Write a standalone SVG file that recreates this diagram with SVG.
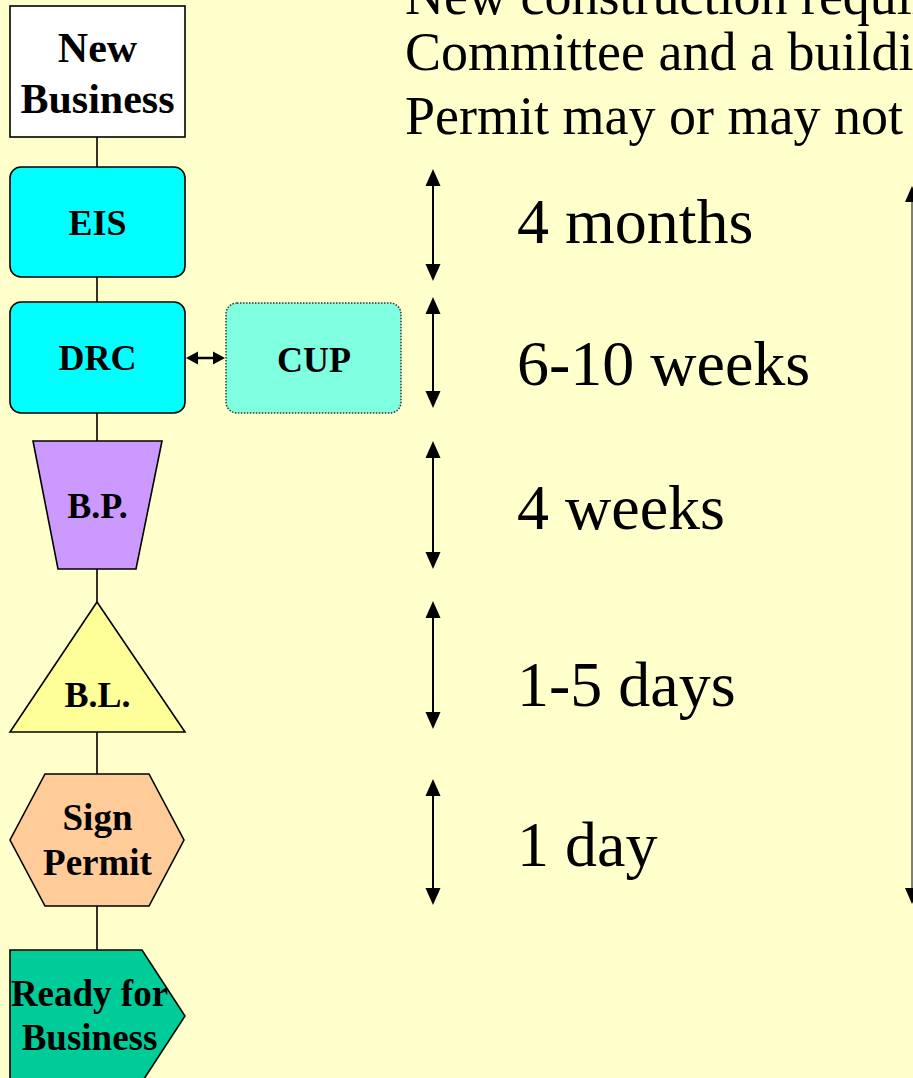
<svg xmlns="http://www.w3.org/2000/svg" width="913" height="1078" viewBox="0 0 913 1078">
<style>
.node{stroke:#000;stroke-width:1.6}
.lbl{font-family:"Liberation Serif","Times New Roman",serif;font-weight:bold;text-anchor:middle;fill:#000}
.big{font-family:"Liberation Serif","Times New Roman",serif;font-size:64px;fill:#000}
.top{font-family:"Liberation Serif","Times New Roman",serif;font-size:54px;fill:#000}
.conn{stroke:#000;stroke-width:1.6;fill:none}
.dur{stroke:#000;stroke-width:2;fill:none;marker-start:url(#ah);marker-end:url(#ah)}
</style>
<defs>
<marker id="ah" markerUnits="userSpaceOnUse" markerWidth="17" markerHeight="16" refX="0" refY="8" orient="auto-start-reverse">
<path d="M0,0.5 L17,8 L0,15.5 z" fill="#000"/>
</marker>
<marker id="ahl" markerUnits="userSpaceOnUse" markerWidth="16" markerHeight="14" refX="0" refY="7" orient="auto-start-reverse">
<path d="M0,0 L16,7 L0,14 z" fill="#000"/>
</marker>
<marker id="ahs" markerUnits="userSpaceOnUse" markerWidth="12" markerHeight="14" refX="0" refY="7" orient="auto-start-reverse">
<path d="M0,0.5 L12,7 L0,13.5 z" fill="#000"/>
</marker>
</defs>
<rect width="913" height="1078" fill="#FFFFCC"/>

<g id="intro-text">
<text class="top" x="405" y="14">New construction requires</text>
<text class="top" x="405" y="70">Committee and a building</text>
<text class="top" x="405" y="134">Permit may or may not be</text>
</g>

<g id="connectors">
<line class="conn" x1="97" y1="137" x2="97" y2="167"/>
<line class="conn" x1="97" y1="277" x2="97" y2="302"/>
<line class="conn" x1="97" y1="413" x2="97" y2="441"/>
<line class="conn" x1="97" y1="569" x2="97" y2="602"/>
<line class="conn" x1="97" y1="732" x2="97" y2="774"/>
<line class="conn" x1="97" y1="906" x2="97" y2="950"/>
<line x1="198" y1="358" x2="213" y2="358" stroke="#000" stroke-width="2.5" marker-start="url(#ahs)" marker-end="url(#ahs)"/>
<line class="dur" x1="433" y1="186" x2="433" y2="264"/>
<line class="dur" x1="433" y1="314" x2="433" y2="391"/>
<line class="dur" x1="433" y1="458" x2="433" y2="552"/>
<line class="dur" x1="433" y1="618" x2="433" y2="712"/>
<line class="dur" x1="433" y1="796" x2="433" y2="888"/>
<line x1="912" y1="202" x2="912" y2="888" stroke="#808070" stroke-width="2" marker-start="url(#ahl)" marker-end="url(#ahl)"/>
</g>

<g id="new-business">
<rect class="node" x="10" y="6" width="175" height="131" fill="#FFFFFF"/>
<text class="lbl" x="97.5" y="62" font-size="42">New</text>
<text class="lbl" x="97.5" y="113" font-size="42">Business</text>
</g>

<g id="eis">
<rect class="node" x="10" y="167" width="175" height="110" rx="11" fill="#00FFFF"/>
<text class="lbl" x="97.5" y="235" font-size="36">EIS</text>
</g>

<g id="drc">
<rect class="node" x="10" y="302" width="175" height="111" rx="11" fill="#00FFFF"/>
<text class="lbl" x="97.5" y="370" font-size="36">DRC</text>
</g>

<g id="cup">
<rect x="226" y="303" width="175" height="110" rx="11" fill="#80FFE0" stroke="#333" stroke-width="1.5" stroke-dasharray="1.5 1.5"/>
<text class="lbl" x="314" y="372" font-size="36">CUP</text>
</g>

<g id="bp">
<polygon class="node" points="33,441 162,441 136,569 58,569" fill="#CC99FF"/>
<text class="lbl" x="97.5" y="518" font-size="36">B.P.</text>
</g>

<g id="bl">
<polygon class="node" points="97,602 185,732 10,732" fill="#FFFF99"/>
<text class="lbl" x="97.5" y="707" font-size="36">B.L.</text>
</g>

<g id="sign-permit">
<polygon class="node" points="45,774 149,774 184,840 149,906 45,906 10,840" fill="#FFCC99"/>
<text class="lbl" x="97.5" y="830" font-size="37">Sign</text>
<text class="lbl" x="97.5" y="875" font-size="37">Permit</text>
</g>

<g id="ready">
<polygon class="node" points="10,950 142,950 185,1016 142,1082 10,1082" fill="#00CC99"/>
<text class="lbl" x="89.5" y="1006" font-size="37">Ready for</text>
<text class="lbl" x="89.5" y="1050" font-size="37">Business</text>
</g>

<g id="durations">
<text class="big" x="517" y="243">4 months</text>
<text class="big" x="517" y="385">6-10 weeks</text>
<text class="big" x="517" y="529">4 weeks</text>
<text class="big" x="517" y="706">1-5 days</text>
<text class="big" x="517" y="866">1 day</text>
</g>
</svg>
